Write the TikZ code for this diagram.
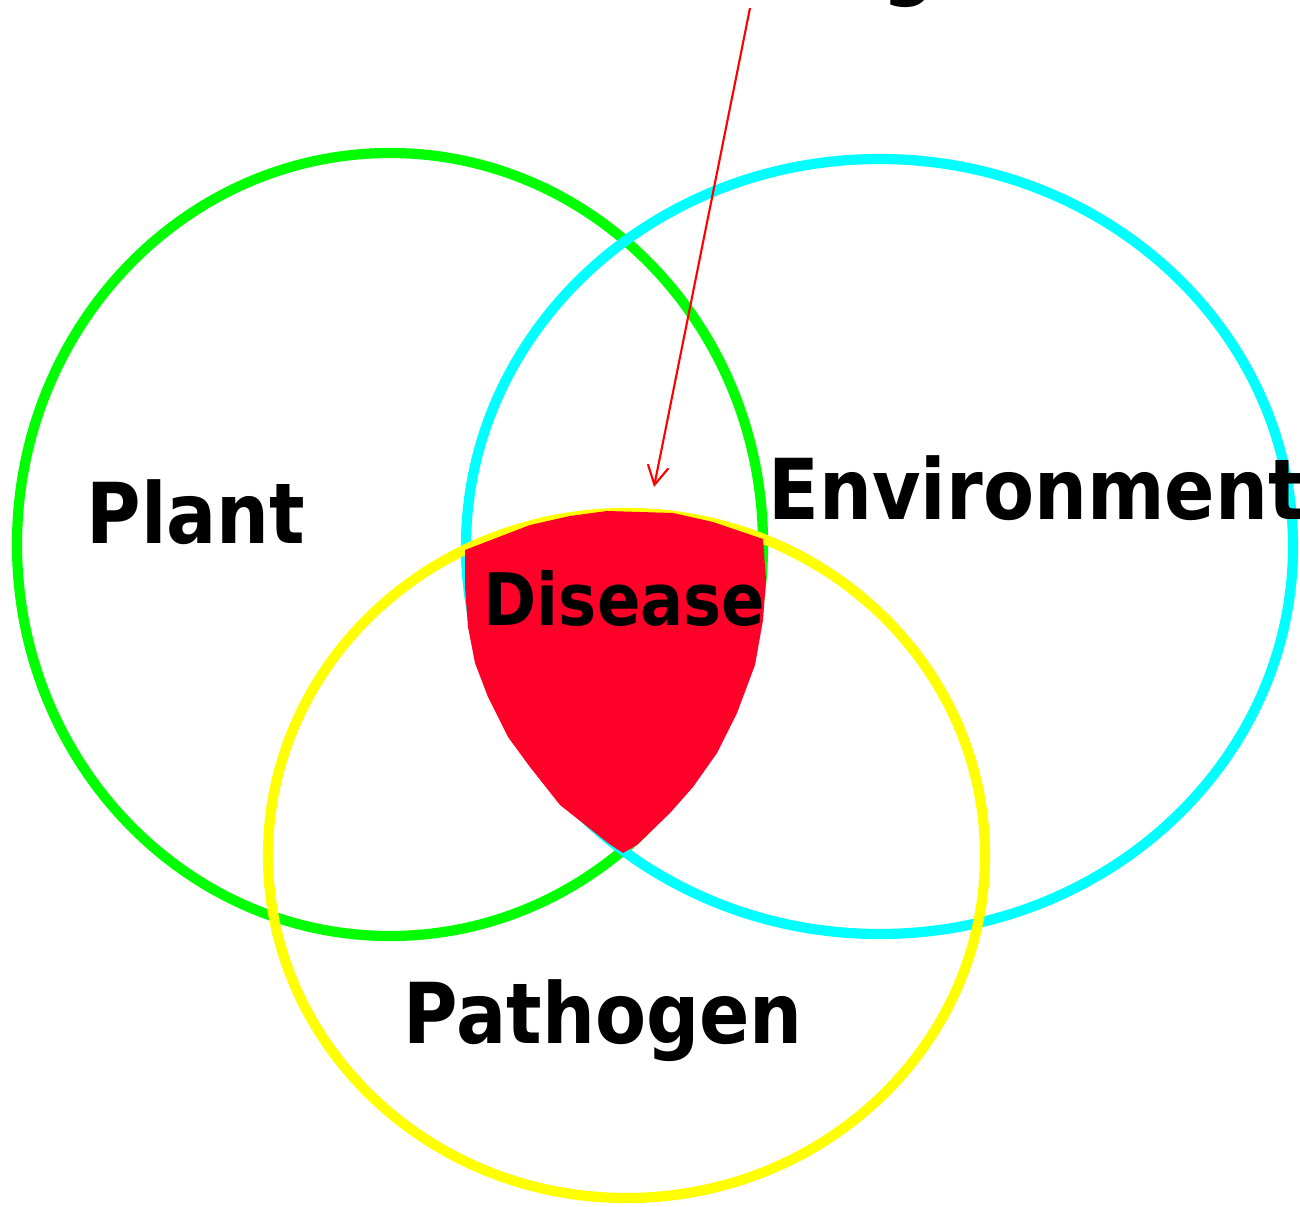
\documentclass[tikz,border=0pt]{standalone}
\usepackage{fontspec}
\setmainfont{DejaVu Sans}[FakeStretch=0.885]
\usetikzlibrary{arrows.meta}
\definecolor{plantc}{RGB}{0,255,0}
\definecolor{envc}{RGB}{0,255,255}
\definecolor{pathc}{RGB}{255,255,0}
\definecolor{disc}{RGB}{255,0,41}
\tikzset{
  ring/.style={line width=2.9pt},
  lbl/.style={inner sep=0pt, anchor=base west, font=\bfseries\fontsize{23.9}{28}\selectfont},
  dlbl/.style={inner sep=0pt, anchor=base west, font=\bfseries\fontsize{20.6}{24}\selectfont},
  pointer/.style={draw=red, line width=0.6pt, -{Straight Barb[length=1.9mm,width=2.1mm]}}
}
\begin{document}
\begin{tikzpicture}[x=0.01cm,y=-0.01cm]
\useasboundingbox (0,0) rectangle (1300,1206);
\clip (0,0) rectangle (1300,1206);
\draw[ring, plantc] (390,544.5) ellipse [x radius=373, y radius=391.5];
\draw[ring, envc] (879.5,546.5) ellipse [x radius=413.5, y radius=387.5];
\draw[ring, pathc] (626.5,855.5) ellipse [x radius=358.5, y radius=342.5];
\fill[disc] (465,550) -- (530,525) -- (570,516) -- (607,511) -- (673,513) -- (713,522) -- (763,539)
  -- (766,580) -- (763,620) -- (755,665) -- (737,713) -- (717,753) -- (693,787) -- (670,813)
  -- (637,845) -- (623,853) -- (608,843) -- (560,805) -- (530,767) -- (508,737) -- (488,697)
  -- (475,663) -- (468,627) -- (465,587) -- cycle;
\node[lbl] (plant) at (86,543) {Plant};
\node[lbl] (env) at (768,519) {Environment};
\node[dlbl] (dis) at (483,625) {Disease};
\node[lbl] (path) at (403,1043) {Pathogen};
\node[lbl] (topg) at (882,-11) {g};
\coordinate (astart) at (750,8);
\coordinate (aend) at (654,487);
\draw[pointer] (astart) -- (aend);
\end{tikzpicture}
\end{document}
